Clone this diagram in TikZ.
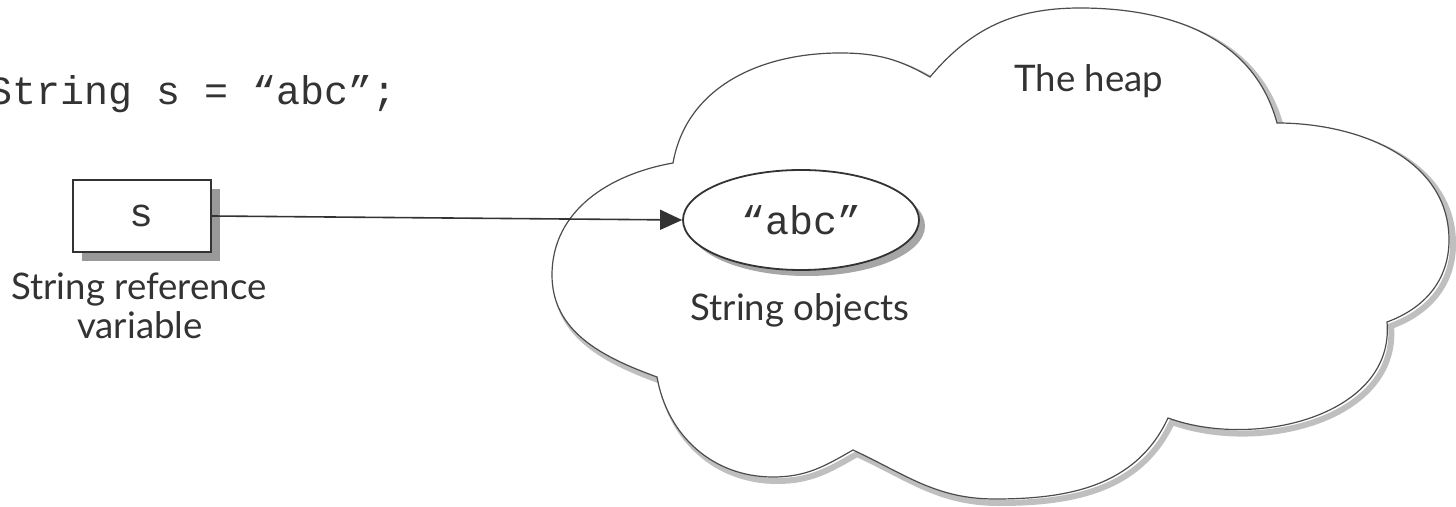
\documentclass[tikz,border=0pt]{standalone}
\usepackage{fontspec}
\usetikzlibrary{arrows.meta,shapes.geometric,shadows}
\newfontfamily\gsans{Lato}
\newfontfamily\cmono{Liberation Mono}
\newcommand\heapcloud{(673,-163) to[out=80,in=180] (840,-53) to[out=0,in=150] (930,-77)
  to[out=50,in=180] (1080,-8) to[out=0,in=105] (1277,-123)
  to[out=0,in=90] (1449,-240) to[out=-90,in=20] (1387,-322)
  to[out=-85,in=-20] (1168,-418)
  to[out=-115,in=0] (995,-499) to[out=180,in=-25] (853,-450)
  to[out=-150,in=0] (773,-477) to[out=180,in=-80] (657,-377)
  to[out=160,in=-90] (552,-275) to[out=90,in=-170] (673,-163) -- cycle}
\tikzset{
  lbl/.style={font=\gsans\fontsize{18.3}{19}\selectfont, text=black!80, inner sep=0pt, anchor=base},
  code/.style={font=\cmono\fontsize{20}{22}\selectfont, text=black!80, inner sep=0pt},
  varbox/.style={draw=black!80, line width=1pt, fill=white, minimum width=69pt, minimum height=36pt, inner sep=0pt,
    drop shadow={shadow xshift=4.5pt, shadow yshift=-4.5pt, fill=black!40, opacity=1}},
  objell/.style={ellipse, draw=black!80, line width=0.9pt, fill=white, minimum width=118pt, minimum height=50pt, inner sep=0pt,
    drop shadow={shadow xshift=3pt, shadow yshift=-3pt, fill=black!35, opacity=1}},
  refarrow/.style={draw=black!80, line width=0.8pt, -{Triangle[length=11pt,width=10pt]}}
}
\begin{document}
\begin{tikzpicture}[x=0.5pt,y=0.5pt]
\fill[white] (0,0) rectangle (1456,-507);
\useasboundingbox (0,0) rectangle (1456,-507);
\begin{scope}
\clip (0,0) rectangle (1456,-507);
% cloud shadow and cloud
\draw[black!25, line width=3pt, shift={(2pt,-2pt)}] \heapcloud;
\draw[fill=white, draw=black!70, line width=0.6pt] \heapcloud;
% code line
\node[code, anchor=base west] (decl) at (-12,-105) {String s = “abc”;};
% reference variable
\node[varbox, code] (var) at (142,-216) {s};
\node[lbl] (varlbl1) at (139,-300) {String reference};
\node[lbl] (varlbl2) at (140,-339) {variable};
% string object
\node[objell, code] (obj) at (801,-220) {“abc”};
\node[lbl] (objlbl) at (800,-321) {String objects};
\node[lbl] (heaplbl) at (1089,-92) {The heap};
\draw[refarrow] (var.east) -- (obj.west);
\end{scope}
\end{tikzpicture}
\end{document}
